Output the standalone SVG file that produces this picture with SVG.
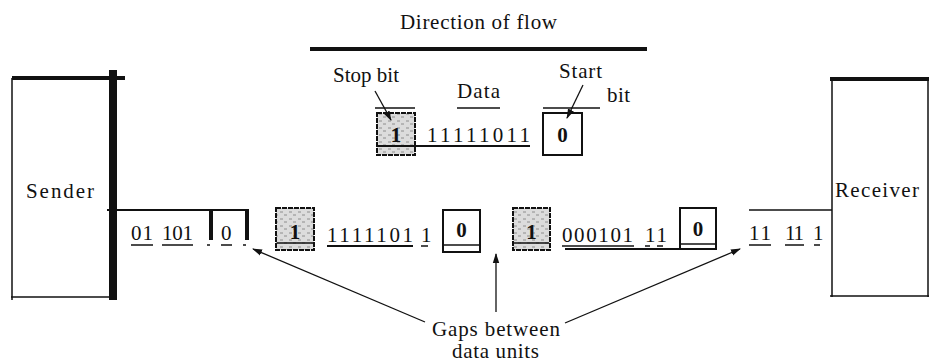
<svg xmlns="http://www.w3.org/2000/svg" width="929" height="363" viewBox="0 0 929 363" font-family="'Liberation Serif', 'DejaVu Serif', serif">
<style>
  text { font-family: 'Liberation Serif', 'DejaVu Serif', serif; fill: #111; }
  .lbl { font-size: 21px; }
  .bit { font-size: 21px; }
  .boxd { font-size: 21px; font-weight: bold; text-anchor: middle; }
  .thin { stroke: #111; stroke-width: 1.5; fill: none; }
  .med { stroke: #111; stroke-width: 2; fill: none; }
  .thick { stroke: #111; stroke-width: 4; fill: none; }
  .box { stroke: #111; stroke-width: 2; fill: #fff; }
  .sbox { stroke: #111; stroke-width: 2; stroke-dasharray: 5 1; fill: url(#shade); }
  .arr { stroke: #111; stroke-width: 1.3; fill: none; marker-end: url(#ah); }
</style>
<defs>
  <pattern id="shade" width="9" height="7" patternUnits="userSpaceOnUse">
    <rect width="9" height="7" fill="#dcdcdc"/>
    <path d="M1 2h3M5 5h3" stroke="#777" stroke-width="0.8"/>
  </pattern>
  <marker id="ah" markerWidth="10" markerHeight="8" refX="9" refY="4" orient="auto" markerUnits="userSpaceOnUse">
    <path d="M0 0.8L10 4L0 7.2z" fill="#111"/>
  </marker>
</defs>

<g id="title">
  <text class="lbl" x="400" y="29" textLength="157" lengthAdjust="spacing">Direction of flow</text>
  <line class="thick" x1="310" y1="49" x2="647" y2="49" stroke-width="3"/>
</g>

<g id="sender">
  <line class="thin" x1="12" y1="78" x2="12" y2="300"/>
  <line class="thin" x1="11" y1="297" x2="113" y2="297"/>
  <line class="thick" x1="12" y1="78" x2="125" y2="78" stroke-width="5"/>
  <rect x="109" y="70" width="8" height="230" fill="#111"/>
  <text class="lbl" x="26" y="198" textLength="68" lengthAdjust="spacing">Sender</text>
</g>

<g id="receiver">
  <line class="thin" x1="832" y1="79" x2="832" y2="297"/>
  <line class="thin" x1="928" y1="79" x2="928" y2="297"/>
  <line class="thin" x1="830" y1="296" x2="929" y2="296"/>
  <line class="thick" x1="830" y1="79" x2="929" y2="79" stroke-width="5"/>
  <text class="lbl" x="835" y="197" textLength="84" lengthAdjust="spacing">Receiver</text>
</g>

<g id="sent-bits">
  <line class="med" x1="107" y1="210" x2="249" y2="210"/>
  <line class="thick" x1="211" y1="209" x2="211" y2="240"/>
  <line class="thick" x1="247" y1="209" x2="247" y2="240"/>
  <text class="bit" x="131" y="240" textLength="22" lengthAdjust="spacing">01</text>
  <text class="bit" x="162" y="240" textLength="31" lengthAdjust="spacing">101</text>
  <text class="bit" x="221" y="240">0</text>
  <line class="thin" x1="131" y1="245" x2="153" y2="245"/>
  <line class="thin" x1="162" y1="245" x2="193" y2="245"/>
  <line class="thin" x1="221" y1="245" x2="232" y2="245"/>
  <line class="thin" x1="207" y1="245" x2="210" y2="245"/>
  <line class="thin" x1="243" y1="245" x2="246" y2="245"/>
</g>

<g id="unit1">
  <rect class="sbox" x="276" y="208" width="38" height="42"/>
  <line class="thin" x1="277" y1="243" x2="313" y2="243"/>
  <text class="boxd" x="295" y="239">1</text>
  <text class="bit" x="327" y="242" textLength="86" lengthAdjust="spacing">1111101</text>
  <text class="bit" x="421" y="242">1</text>
  <line class="med" x1="327" y1="246" x2="413" y2="246"/>
  <line class="thin" x1="421" y1="246" x2="428" y2="246"/>
  <rect class="box" x="443" y="210" width="37" height="42"/>
  <line class="thin" x1="443" y1="245" x2="480" y2="245"/>
  <text class="boxd" x="461.5" y="237">0</text>
</g>

<g id="unit2">
  <rect class="sbox" x="513" y="208" width="37" height="42"/>
  <line class="thin" x1="514" y1="243" x2="549" y2="243"/>
  <text class="boxd" x="531.5" y="239">1</text>
  <text class="bit" x="562" y="242" textLength="71" lengthAdjust="spacing">000101</text>
  <text class="bit" x="645" y="242" textLength="22" lengthAdjust="spacing">11</text>
  <line class="thin" x1="562" y1="246" x2="634" y2="246"/>
  <line class="thin" x1="645" y1="246" x2="650" y2="246"/>
  <line class="thin" x1="657" y1="246" x2="663" y2="246"/>
  <line class="med" x1="565" y1="249" x2="680" y2="249"/>
  <rect class="box" x="680" y="208" width="36" height="41"/>
  <line class="thin" x1="680" y1="244" x2="716" y2="244"/>
  <text class="boxd" x="698" y="236">0</text>
</g>

<g id="received-bits">
  <line class="thin" x1="749" y1="210" x2="832" y2="210"/>
  <text class="bit" x="749" y="240" textLength="22" lengthAdjust="spacing">11</text>
  <text class="bit" x="785" y="240" textLength="19" lengthAdjust="spacing">11</text>
  <text class="bit" x="813" y="240">1</text>
  <line class="thin" x1="749" y1="245" x2="771" y2="245"/>
  <line class="thin" x1="785" y1="245" x2="804" y2="245"/>
  <line class="thin" x1="814" y1="245" x2="820" y2="245"/>
</g>

<g id="frame-detail">
  <text class="lbl" x="399" y="82" text-anchor="end">Stop bit</text>
  <line class="thin" x1="375" y1="108" x2="415" y2="108"/>
  <text class="lbl" x="457" y="98" textLength="43" lengthAdjust="spacing">Data</text>
  <line class="thin" x1="457" y1="108" x2="500" y2="108"/>
  <text class="lbl" x="559" y="78" textLength="43" lengthAdjust="spacing">Start</text>
  <text class="lbl" x="607" y="102" textLength="23" lengthAdjust="spacing">bit</text>
  <line class="thin" x1="543" y1="108" x2="600" y2="108"/>
  <rect class="sbox" x="377" y="113" width="38" height="42"/>
  <text class="boxd" x="396" y="142">1</text>
  <line class="med" x1="378" y1="146" x2="530" y2="146"/>
  <text class="bit" x="427" y="142" textLength="103" lengthAdjust="spacing">11111011</text>
  <rect class="box" x="543" y="113" width="39" height="42"/>
  <text class="boxd" x="562.5" y="142">0</text>
</g>

<g id="connectors">
  <line class="arr" x1="375" y1="91" x2="391" y2="120"/>
  <line class="arr" x1="583" y1="85" x2="567" y2="118"/>
  <line class="arr" x1="425" y1="322" x2="253" y2="249"/>
  <line class="arr" x1="496" y1="312" x2="496" y2="254"/>
  <line class="arr" x1="565" y1="323" x2="740" y2="249"/>
</g>

<g id="gaps-label">
  <text class="lbl" x="432" y="336" textLength="128" lengthAdjust="spacing">Gaps between</text>
  <text class="lbl" x="452" y="358" textLength="87" lengthAdjust="spacing">data units</text>
</g>
</svg>
